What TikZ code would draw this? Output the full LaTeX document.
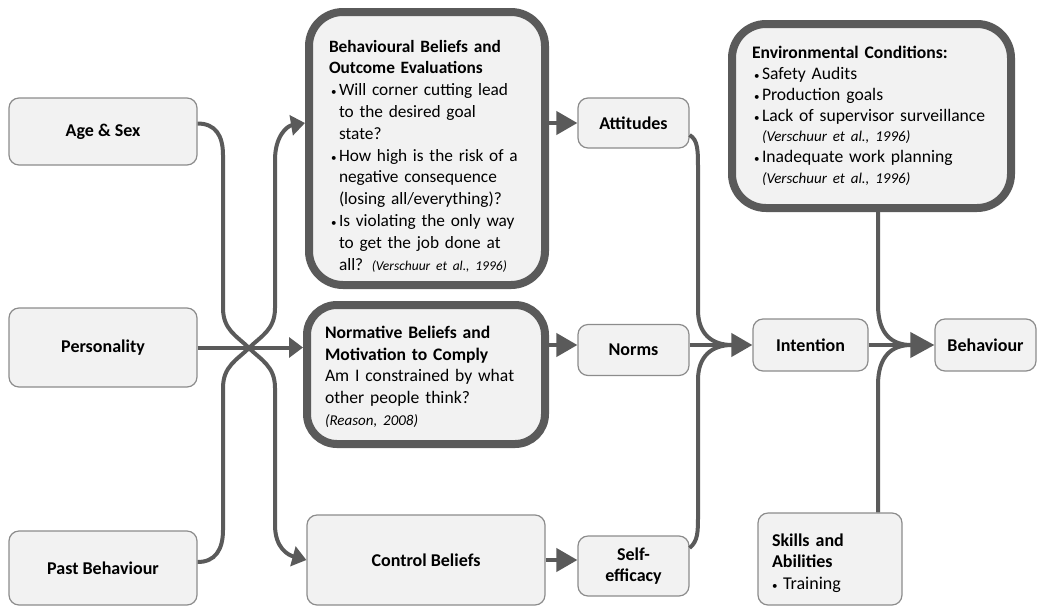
\documentclass[tikz,border=0pt]{standalone}
\usepackage{fontspec}
\setmainfont{Carlito}
\usetikzlibrary{arrows.meta}

\definecolor{boxfill}{HTML}{F2F2F2}
\definecolor{boxline}{HTML}{8C8C8C}
\definecolor{darkline}{HTML}{5A5A5A}

% bullet items with a hanging indent
\newcommand{\bul}{\hspace*{2pt}\makebox[8pt][l]{\fontsize{11}{11}\selectfont\textbullet}}
\newcommand{\ind}{\hspace*{10pt}}
\newcommand{\srcnote}[2]{{\fontsize{#1}{#1}\selectfont\itshape #2}}

\tikzset{
  plainbox/.style={draw=boxline, line width=1.2pt, fill=boxfill,
    rounded corners=10pt, inner sep=0pt, align=center,
    font=\fontsize{18}{21.6}\selectfont\bfseries},
  heavybox/.style={draw=darkline, line width=8pt, fill=boxfill,
    rounded corners=34pt, inner sep=0pt, align=left,
    font=\fontsize{17.3}{21.8}\selectfont},
  link/.style={draw=darkline, line width=4pt},
  bigtip/.style={-{Triangle[length=21pt,width=23pt]}},
  smalltip/.style={-{Triangle[length=14pt,width=20pt]}},
}

\begin{document}
\begin{tikzpicture}[x=1pt, y=-1pt]
\useasboundingbox (0,0) rectangle (1039,606);

% input factors
\node[plainbox, minimum width=188, minimum height=67] (age)  at (103,131.5) {Age \& Sex};
\node[plainbox, minimum width=188, minimum height=79] (pers) at (103,347.5) {Personality};
\node[plainbox, minimum width=188, minimum height=74] (past) at (103,568)   {Past Behaviour};

% belief boxes
\node[heavybox, minimum width=236, minimum height=273, text width=196] (beh) at (427,148.5) {%
\rule{0pt}{27pt}\textbf{Behavioural Beliefs and}\\
\textbf{Outcome Evaluations}\\
\bul Will corner cutting lead\\
\ind to the desired goal\\
\ind state?\\
\bul How high is the risk of a\\
\ind negative consequence\\
\ind (losing all/everything)?\\
\bul Is violating the only way\\
\ind to get the job done at\\
\ind all? \srcnote{13.5}{(Verschuur et al., 1996)}};

\node[heavybox, rounded corners=30pt, minimum width=238, minimum height=139, text width=202,
      font=\fontsize{17.6}{21.6}\selectfont] (norm) at (426,374.5) {%
\rule{0pt}{17pt}\textbf{Normative Beliefs and}\\
\textbf{Motivation to Comply}\\
Am I constrained by what\\
other people think?\\
\srcnote{15}{(Reason, 2008)}};

\node[plainbox, minimum width=238, minimum height=90] (ctrl) at (426,560) {Control Beliefs};

% attitudes, norms, self-efficacy
\node[plainbox, minimum width=111, minimum height=50] (att)   at (633.5,123) {Attitudes};
\node[plainbox, minimum width=111, minimum height=51] (norms) at (633.5,350) {Norms};
\node[plainbox, minimum width=111, minimum height=60] (self)  at (633.5,566) {Self-\\efficacy};

% intention and behaviour
\node[plainbox, minimum width=115, minimum height=52] (int)   at (810.5,345) {Intention};
\node[plainbox, minimum width=101, minimum height=52] (behav) at (985.5,345) {Behaviour};

\node[heavybox, minimum width=279, minimum height=184, text width=239,
      font=\fontsize{17.6}{20.8}\selectfont] (env) at (871.5,116) {%
\textbf{Environmental Conditions:}\\
\bul Safety Audits\\
\bul Production goals\\
\bul Lack of supervisor surveillance\\
\ind\srcnote{15}{(Verschuur et al., 1996)}\\
\bul Inadequate work planning\\
\ind\srcnote{15}{(Verschuur et al., 1996)}};

\node[plainbox, minimum width=144, minimum height=92, text width=116, align=left] (skills) at (830,559) {%
\rule{0pt}{21pt}Skills and\\
Abilities\\
{\mdseries\makebox[11pt][l]{\fontsize{11}{11}\selectfont\textbullet}Training}};

% merge points in front of the arrow heads
\coordinate (m1) at (732,345);
\coordinate (m2) at (911,345);

% inputs to beliefs: two S-curves crossing on the personality line
\draw[link, smalltip] ([yshift=8pt]age.east) .. controls (215,123.5) and (223,135) .. (223,155)
  -- (223,308) .. controls (223,330) and (237,336) .. (249,348)
  .. controls (261,360) and (275,366) .. (275,388)
  -- (275,525) .. controls (275,548) and (288,555) .. (ctrl.west);
\draw[link, smalltip] ([yshift=6pt]past.east) .. controls (215,562) and (223,550) .. (223,530)
  -- (223,388) .. controls (223,366) and (237,360) .. (249,348)
  .. controls (261,336) and (275,330) .. (275,308)
  -- (275,160) .. controls (275,136) and (287,126) .. (beh.west |- att.west);
\draw[link, smalltip] (pers.east) -- (pers.east -| norm.west);

% beliefs to attitudes, norms, self-efficacy
\draw[link, bigtip] (beh.east |- att.west) -- (att.west);
\draw[link, bigtip] (norm.east |- int.west) -- (norms.west |- int.west);
\draw[link, bigtip] (ctrl.east) -- (ctrl.east -| self.west);

% into intention
\draw[link] ([yshift=-12pt]att.east) .. controls (698,140) and (698,150) .. (698,170)
  -- (698,310) .. controls (698,334) and (712,345) .. (m1);
\draw[link] ([yshift=18pt]self.east) .. controls (698,541) and (698,532) .. (698,515)
  -- (698,380) .. controls (698,356) and (712,345) .. (m1);
\draw[link, bigtip] (norms.east |- int.west) -- (int.west);

% into behaviour
\draw[link] ([xshift=6.5pt]env.south) -- (878,305) .. controls (878,334) and (892,345) .. (m2);
\draw[link] ([xshift=48pt]skills.north) -- (878,385) .. controls (878,356) and (892,345) .. (m2);
\draw[link, -{Triangle[length=24pt,width=25pt]}] (int.east) -- (behav.west);
\end{tikzpicture}
\end{document}
